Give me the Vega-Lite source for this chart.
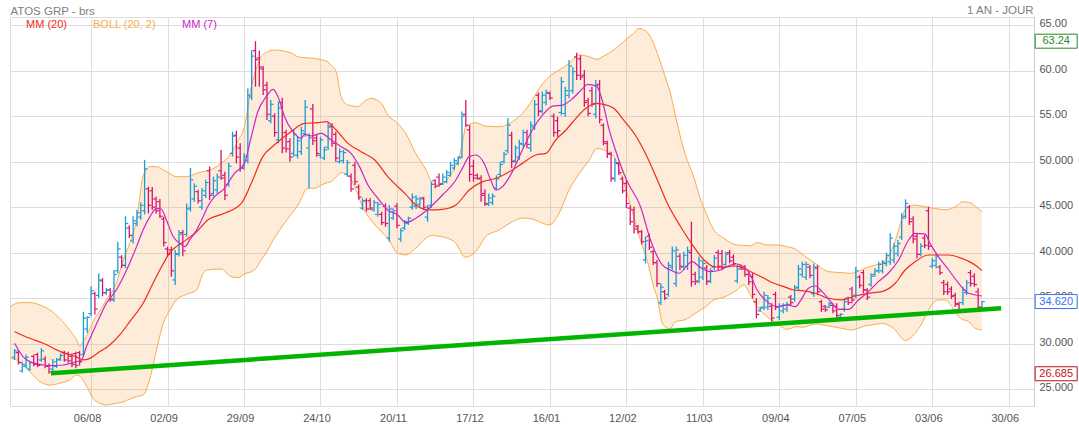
{
"$schema":"https://vega.github.io/schema/vega-lite/v6.json",
"width":1024,"height":389,
"autosize":{"type":"none"},
"padding":{"left":10,"top":17,"right":45,"bottom":21},
"background":"#ffffff",
"config":{"view":{"stroke":"#dddddd","strokeWidth":1},"font":"Liberation Sans","axis":{"labelFont":"Liberation Sans","titleFont":"Liberation Sans"}},
"resolve":{"axis":{"x":"independent","y":"independent"}},
"datasets":{
"bars":[
{"i":0,"o":28.5,"h":29.4,"l":28.2,"c":29.2},{"i":1,"o":29.0,"h":29.2,"l":27.7,"c":27.9},{"i":2,"o":27.0,"h":28.0,"l":26.8,"c":27.7},{"i":3,"o":27.5,"h":28.8,"l":27.3,"c":28.5},{"i":4,"o":27.2,"h":28.1,"l":27.0,"c":27.9},{"i":5,"o":28.6,"h":28.8,"l":27.5,"c":27.7},{"i":6,"o":28.8,"h":29.0,"l":27.4,"c":27.6},{"i":7,"o":28.2,"h":29.5,"l":28.0,"c":29.2},{"i":8,"o":28.3,"h":28.6,"l":27.3,"c":27.5},{"i":9,"o":27.5,"h":27.8,"l":26.685,"c":26.9},
{"i":10,"o":27.2,"h":28.3,"l":27.0,"c":28.0},{"i":11,"o":27.5,"h":28.4,"l":27.3,"c":28.2},{"i":12,"o":28.3,"h":28.9,"l":28.1,"c":28.7},{"i":13,"o":29.0,"h":29.2,"l":28.0,"c":28.2},{"i":14,"o":28.9,"h":29.1,"l":27.9,"c":28.1},{"i":15,"o":28.6,"h":28.9,"l":27.4,"c":27.7},{"i":16,"o":28.9,"h":29.1,"l":27.3,"c":27.6},{"i":17,"o":29.0,"h":29.2,"l":27.6,"c":28.0},{"i":18,"o":28.8,"h":33.5,"l":28.6,"c":32.8},{"i":19,"o":31.6,"h":33.0,"l":31.2,"c":32.9},
{"i":20,"o":33.3,"h":36.3,"l":33.0,"c":35.8},{"i":21,"o":35.5,"h":35.7,"l":33.2,"c":33.8},{"i":22,"o":35.3,"h":37.7,"l":35.0,"c":37.0},{"i":23,"o":36.9,"h":37.2,"l":35.2,"c":35.6},{"i":24,"o":35.6,"h":36.1,"l":35.35,"c":35.9},{"i":25,"o":35.9,"h":36.1,"l":34.6,"c":34.9},{"i":26,"o":34.8,"h":38.1,"l":34.6,"c":37.6},{"i":27,"o":38.0,"h":41.2,"l":37.7,"c":40.4},{"i":28,"o":39.5,"h":39.7,"l":38.3,"c":38.6},{"i":29,"o":38.6,"h":44.0,"l":38.3,"c":43.2},
{"i":30,"o":42.7,"h":43.0,"l":41.6,"c":41.9},{"i":31,"o":41.3,"h":44.0,"l":41.0,"c":43.5},{"i":32,"o":43.2,"h":44.7,"l":42.9,"c":44.4},{"i":33,"o":43.9,"h":45.5,"l":43.6,"c":45.2},{"i":34,"o":44.6,"h":50.2,"l":44.2,"c":49.2},{"i":35,"o":47.0,"h":47.25,"l":44.3,"c":45.2},{"i":36,"o":46.8,"h":47.2,"l":44.7,"c":45.0},{"i":37,"o":45.9,"h":46.15,"l":44.3,"c":44.6},{"i":38,"o":45.6,"h":45.9,"l":43.8,"c":44.0},{"i":39,"o":43.7,"h":43.95,"l":40.66,"c":41.1},
{"i":40,"o":40.4,"h":40.66,"l":39.56,"c":39.8},{"i":41,"o":40.3,"h":40.66,"l":37.36,"c":38.0},{"i":42,"o":37.0,"h":40.3,"l":36.45,"c":39.8},{"i":43,"o":39.9,"h":42.5,"l":39.56,"c":42.0},{"i":44,"o":42.2,"h":42.5,"l":39.6,"c":40.2},{"i":45,"o":42.0,"h":45.4,"l":41.75,"c":44.8},{"i":46,"o":44.9,"h":49.3,"l":44.5,"c":48.0},{"i":47,"o":45.9,"h":47.6,"l":45.6,"c":47.3},{"i":48,"o":46.7,"h":46.9,"l":45.4,"c":45.7},{"i":49,"o":45.0,"h":47.1,"l":44.7,"c":46.8},
{"i":50,"o":46.3,"h":48.0,"l":46.0,"c":47.7},{"i":51,"o":49.0,"h":49.45,"l":45.78,"c":46.3},{"i":52,"o":46.5,"h":48.35,"l":46.15,"c":47.9},{"i":53,"o":46.9,"h":48.71,"l":46.52,"c":48.3},{"i":54,"o":49.0,"h":51.28,"l":47.98,"c":48.2},{"i":55,"o":48.5,"h":48.9,"l":45.78,"c":46.3},{"i":56,"o":47.5,"h":49.89,"l":47.25,"c":49.5},{"i":57,"o":50.9,"h":53.29,"l":50.55,"c":52.8},{"i":58,"o":52.9,"h":53.4,"l":49.81,"c":50.5},{"i":59,"o":51.5,"h":52.01,"l":48.9,"c":49.3},
{"i":60,"o":49.3,"h":50.91,"l":49.08,"c":50.6},{"i":61,"o":50.1,"h":58.05,"l":49.81,"c":57.3},{"i":62,"o":57.1,"h":62.27,"l":56.77,"c":61.6},{"i":63,"o":62.2,"h":63.24,"l":58.24,"c":61.2},{"i":64,"o":61.4,"h":62.19,"l":58.24,"c":60.4},{"i":65,"o":60.2,"h":60.51,"l":57.32,"c":57.9},{"i":66,"o":58.4,"h":58.79,"l":54.57,"c":55.2},{"i":67,"o":54.5,"h":56.77,"l":54.21,"c":56.3},{"i":68,"o":55.0,"h":55.31,"l":52.74,"c":53.2},{"i":69,"o":52.4,"h":56.59,"l":52.01,"c":55.9},
{"i":70,"o":56.5,"h":57.03,"l":50.91,"c":51.5},{"i":71,"o":53.2,"h":53.5,"l":51.0,"c":51.4},{"i":72,"o":52.2,"h":52.56,"l":50.0,"c":50.5},{"i":73,"o":50.9,"h":53.48,"l":50.55,"c":53.0},{"i":74,"o":50.7,"h":52.74,"l":50.36,"c":52.3},{"i":75,"o":51.1,"h":53.84,"l":50.73,"c":53.4},{"i":76,"o":53.1,"h":56.77,"l":52.74,"c":56.0},{"i":77,"o":51.5,"h":53.11,"l":47.07,"c":52.6},{"i":78,"o":55.8,"h":56.33,"l":51.83,"c":52.3},{"i":79,"o":52.6,"h":52.93,"l":50.55,"c":50.9},
{"i":80,"o":50.7,"h":52.74,"l":50.36,"c":52.4},{"i":81,"o":50.4,"h":51.64,"l":50.18,"c":51.3},{"i":82,"o":51.6,"h":54.28,"l":51.28,"c":53.8},{"i":83,"o":53.9,"h":54.21,"l":51.64,"c":52.0},{"i":84,"o":53.0,"h":53.29,"l":50.0,"c":50.4},{"i":85,"o":50.0,"h":51.46,"l":49.81,"c":51.1},{"i":86,"o":50.1,"h":51.28,"l":49.81,"c":51.0},{"i":87,"o":48.6,"h":50.18,"l":48.35,"c":49.9},{"i":88,"o":48.4,"h":48.71,"l":46.7,"c":47.0},{"i":89,"o":49.6,"h":50.0,"l":47.43,"c":47.8},
{"i":90,"o":47.2,"h":47.5,"l":45.8,"c":46.1},{"i":91,"o":44.9,"h":45.97,"l":44.69,"c":45.7},{"i":92,"o":45.7,"h":45.97,"l":44.5,"c":44.8},{"i":93,"o":45.7,"h":45.97,"l":44.69,"c":44.9},{"i":94,"o":44.7,"h":45.78,"l":44.5,"c":45.5},{"i":95,"o":44.2,"h":45.6,"l":43.95,"c":45.3},{"i":96,"o":44.2,"h":44.5,"l":43.04,"c":43.3},{"i":97,"o":45.1,"h":45.42,"l":42.85,"c":43.2},{"i":98,"o":41.6,"h":45.23,"l":41.2,"c":44.8},{"i":99,"o":43.8,"h":44.87,"l":43.59,"c":44.6},
{"i":100,"o":45.1,"h":45.42,"l":42.67,"c":43.0},{"i":101,"o":41.5,"h":42.67,"l":41.2,"c":42.4},{"i":102,"o":42.7,"h":43.59,"l":42.49,"c":43.4},{"i":103,"o":43.2,"h":43.95,"l":43.04,"c":43.8},{"i":104,"o":45.0,"h":46.5,"l":44.7,"c":46.1},{"i":105,"o":45.1,"h":46.3,"l":44.8,"c":45.9},{"i":106,"o":45.3,"h":46.15,"l":45.05,"c":45.9},{"i":107,"o":46.0,"h":46.15,"l":44.69,"c":45.0},{"i":108,"o":43.9,"h":45.23,"l":43.4,"c":44.9},{"i":109,"o":45.2,"h":47.8,"l":44.9,"c":47.5},
{"i":110,"o":47.9,"h":48.06,"l":47.07,"c":47.3},{"i":111,"o":48.3,"h":48.7,"l":47.25,"c":47.5},{"i":112,"o":47.6,"h":48.7,"l":47.43,"c":48.3},{"i":113,"o":47.8,"h":49.08,"l":47.62,"c":48.8},{"i":114,"o":48.5,"h":50.0,"l":48.35,"c":49.6},{"i":115,"o":49.3,"h":50.36,"l":49.08,"c":50.1},{"i":116,"o":49.8,"h":50.6,"l":49.6,"c":50.4},{"i":117,"o":50.5,"h":55.5,"l":50.36,"c":55.0},{"i":118,"o":55.2,"h":56.77,"l":53.84,"c":54.0},{"i":119,"o":53.5,"h":54.0,"l":47.8,"c":48.6},
{"i":120,"o":49.5,"h":50.2,"l":47.8,"c":48.2},{"i":121,"o":48.5,"h":48.7,"l":48.0,"c":48.1},{"i":122,"o":48.2,"h":48.5,"l":45.6,"c":46.3},{"i":123,"o":46.5,"h":46.96,"l":45.13,"c":45.4},{"i":124,"o":45.3,"h":46.5,"l":45.13,"c":46.0},{"i":125,"o":45.5,"h":46.5,"l":45.23,"c":46.2},{"i":126,"o":47.1,"h":48.5,"l":46.9,"c":48.1},{"i":127,"o":48.6,"h":50.0,"l":48.35,"c":49.7},{"i":128,"o":50.0,"h":51.1,"l":49.8,"c":50.8},{"i":129,"o":51.2,"h":54.76,"l":50.9,"c":54.0},
{"i":130,"o":52.9,"h":53.3,"l":49.3,"c":50.0},{"i":131,"o":50.1,"h":51.8,"l":49.8,"c":51.5},{"i":132,"o":50.5,"h":52.4,"l":50.2,"c":52.0},{"i":133,"o":51.9,"h":53.5,"l":51.6,"c":53.2},{"i":134,"o":53.2,"h":53.5,"l":51.46,"c":51.9},{"i":135,"o":51.5,"h":54.4,"l":51.1,"c":54.0},{"i":136,"o":53.8,"h":56.77,"l":53.48,"c":56.3},{"i":137,"o":57.3,"h":57.6,"l":55.0,"c":55.5},{"i":138,"o":55.6,"h":57.7,"l":55.3,"c":57.3},{"i":139,"o":56.5,"h":57.9,"l":56.2,"c":57.6},
{"i":140,"o":57.5,"h":57.7,"l":56.77,"c":57.0},{"i":141,"o":55.0,"h":55.3,"l":52.74,"c":53.2},{"i":142,"o":54.5,"h":54.94,"l":52.74,"c":53.4},{"i":143,"o":55.4,"h":59.3,"l":55.1,"c":58.8},{"i":144,"o":55.3,"h":58.24,"l":54.94,"c":57.8},{"i":145,"o":57.3,"h":61.17,"l":56.96,"c":60.5},{"i":146,"o":57.8,"h":60.4,"l":57.5,"c":59.9},{"i":147,"o":61.5,"h":61.97,"l":58.97,"c":59.5},{"i":148,"o":61.3,"h":61.7,"l":58.97,"c":59.3},{"i":149,"o":59.5,"h":60.07,"l":56.04,"c":56.5},
{"i":150,"o":56.7,"h":57.0,"l":55.0,"c":55.3},{"i":151,"o":57.8,"h":58.24,"l":56.04,"c":56.3},{"i":152,"o":55.2,"h":58.97,"l":54.76,"c":58.4},{"i":153,"o":58.5,"h":58.97,"l":54.2,"c":54.6},{"i":154,"o":54.0,"h":54.2,"l":51.8,"c":52.2},{"i":155,"o":52.0,"h":52.3,"l":50.4,"c":50.9},{"i":156,"o":50.8,"h":51.1,"l":47.8,"c":48.2},{"i":157,"o":48.1,"h":50.36,"l":47.8,"c":49.9},{"i":158,"o":49.8,"h":50.0,"l":48.5,"c":48.8},{"i":159,"o":48.1,"h":48.35,"l":46.5,"c":46.8},
{"i":160,"o":47.6,"h":48.0,"l":44.9,"c":45.4},{"i":161,"o":44.9,"h":45.2,"l":43.04,"c":43.4},{"i":162,"o":44.7,"h":45.05,"l":42.1,"c":42.6},{"i":163,"o":42.9,"h":43.04,"l":42.1,"c":42.3},{"i":164,"o":42.3,"h":42.5,"l":40.9,"c":41.2},{"i":165,"o":39.2,"h":41.75,"l":38.8,"c":41.3},{"i":166,"o":41.8,"h":42.1,"l":40.3,"c":40.6},{"i":167,"o":40.1,"h":40.3,"l":38.64,"c":38.9},{"i":168,"o":38.9,"h":39.2,"l":36.26,"c":36.6},{"i":169,"o":34.5,"h":36.63,"l":34.24,"c":36.2},
{"i":170,"o":35.7,"h":35.9,"l":34.8,"c":35.0},{"i":171,"o":35.4,"h":39.0,"l":35.16,"c":38.6},{"i":172,"o":38.4,"h":40.66,"l":38.09,"c":40.2},{"i":173,"o":36.6,"h":40.66,"l":36.26,"c":40.3},{"i":174,"o":39.6,"h":39.9,"l":38.09,"c":38.5},{"i":175,"o":38.4,"h":40.1,"l":38.09,"c":39.7},{"i":176,"o":38.5,"h":40.66,"l":38.09,"c":40.2},{"i":177,"o":40.0,"h":43.4,"l":36.26,"c":36.8},{"i":178,"o":37.6,"h":37.9,"l":36.45,"c":36.8},{"i":179,"o":36.9,"h":39.56,"l":36.63,"c":39.1},
{"i":180,"o":37.3,"h":39.2,"l":37.0,"c":38.8},{"i":181,"o":38.3,"h":38.64,"l":36.45,"c":36.8},{"i":182,"o":36.9,"h":38.28,"l":36.63,"c":38.0},{"i":183,"o":38.4,"h":39.74,"l":38.09,"c":39.4},{"i":184,"o":40.0,"h":40.3,"l":38.09,"c":38.5},{"i":185,"o":39.9,"h":40.3,"l":38.09,"c":38.4},{"i":186,"o":38.7,"h":40.1,"l":38.46,"c":39.8},{"i":187,"o":40.0,"h":40.3,"l":38.83,"c":39.1},{"i":188,"o":39.5,"h":39.8,"l":38.5,"c":38.8},{"i":189,"o":36.9,"h":38.64,"l":36.63,"c":38.2},
{"i":190,"o":38.5,"h":38.64,"l":38.09,"c":38.2},{"i":191,"o":38.4,"h":38.64,"l":37.36,"c":37.6},{"i":192,"o":37.6,"h":37.9,"l":36.45,"c":36.8},{"i":193,"o":37.4,"h":37.73,"l":34.98,"c":35.4},{"i":194,"o":34.6,"h":34.98,"l":32.78,"c":33.2},{"i":195,"o":33.6,"h":34.06,"l":33.51,"c":33.9},{"i":196,"o":34.0,"h":35.7,"l":33.7,"c":35.3},{"i":197,"o":34.0,"h":35.35,"l":33.7,"c":35.0},{"i":198,"o":34.1,"h":34.43,"l":32.41,"c":32.8},{"i":199,"o":35.4,"h":35.7,"l":33.7,"c":34.0},
{"i":200,"o":32.9,"h":34.43,"l":32.6,"c":34.1},{"i":201,"o":33.6,"h":34.43,"l":33.33,"c":34.2},{"i":202,"o":33.8,"h":34.6,"l":33.5,"c":34.3},{"i":203,"o":35.1,"h":35.35,"l":34.24,"c":34.5},{"i":204,"o":34.9,"h":36.45,"l":34.6,"c":36.1},{"i":205,"o":36.2,"h":38.64,"l":35.9,"c":38.2},{"i":206,"o":37.6,"h":39.0,"l":37.3,"c":38.7},{"i":207,"o":37.3,"h":39.0,"l":37.0,"c":38.7},{"i":208,"o":38.4,"h":38.64,"l":37.18,"c":37.5},{"i":209,"o":35.5,"h":38.8,"l":35.16,"c":38.4},
{"i":210,"o":38.3,"h":38.64,"l":35.35,"c":35.7},{"i":211,"o":34.6,"h":34.8,"l":33.5,"c":33.8},{"i":212,"o":34.1,"h":34.24,"l":33.5,"c":33.7},{"i":213,"o":34.0,"h":34.6,"l":33.88,"c":34.4},{"i":214,"o":34.2,"h":34.43,"l":33.33,"c":33.6},{"i":215,"o":34.1,"h":34.43,"l":32.78,"c":33.1},{"i":216,"o":32.9,"h":33.33,"l":32.78,"c":33.2},{"i":217,"o":33.8,"h":34.98,"l":33.51,"c":34.6},{"i":218,"o":35.0,"h":35.16,"l":34.24,"c":34.5},{"i":219,"o":36.0,"h":36.26,"l":34.43,"c":34.8},
{"i":220,"o":35.3,"h":38.46,"l":34.98,"c":38.0},{"i":221,"o":37.3,"h":37.54,"l":36.08,"c":36.4},{"i":222,"o":37.8,"h":38.09,"l":35.53,"c":35.9},{"i":223,"o":35.9,"h":36.08,"l":34.8,"c":35.1},{"i":224,"o":36.5,"h":37.73,"l":36.26,"c":37.4},{"i":225,"o":37.6,"h":38.28,"l":37.36,"c":38.0},{"i":226,"o":38.0,"h":39.0,"l":37.73,"c":38.7},{"i":227,"o":38.0,"h":39.19,"l":37.73,"c":38.9},{"i":228,"o":38.8,"h":40.0,"l":38.5,"c":39.7},{"i":229,"o":39.0,"h":42.12,"l":38.64,"c":41.6},
{"i":230,"o":39.2,"h":41.02,"l":38.83,"c":40.7},{"i":231,"o":39.9,"h":41.39,"l":39.56,"c":41.0},{"i":232,"o":41.7,"h":44.32,"l":41.39,"c":43.8},{"i":233,"o":44.0,"h":45.86,"l":43.77,"c":45.4},{"i":234,"o":45.0,"h":45.23,"l":43.04,"c":43.4},{"i":235,"o":43.7,"h":44.0,"l":41.02,"c":41.5},{"i":236,"o":41.8,"h":42.12,"l":39.37,"c":39.8},{"i":237,"o":39.8,"h":41.02,"l":39.56,"c":40.7},{"i":238,"o":41.6,"h":41.94,"l":40.48,"c":40.8},{"i":239,"o":44.6,"h":45.05,"l":40.29,"c":40.7},
{"i":240,"o":38.5,"h":39.37,"l":38.28,"c":39.1},{"i":241,"o":38.6,"h":39.92,"l":38.28,"c":39.6},{"i":242,"o":38.4,"h":38.64,"l":37.54,"c":37.8},{"i":243,"o":36.7,"h":37.0,"l":35.35,"c":35.7},{"i":244,"o":36.5,"h":36.81,"l":35.35,"c":35.7},{"i":245,"o":36.0,"h":36.3,"l":34.9,"c":35.2},{"i":246,"o":35.3,"h":35.6,"l":34.06,"c":34.4},{"i":247,"o":34.3,"h":34.6,"l":33.33,"c":33.6},{"i":248,"o":34.5,"h":36.26,"l":34.24,"c":35.9},{"i":249,"o":35.6,"h":37.0,"l":35.35,"c":36.7},
{"i":250,"o":37.8,"h":38.09,"l":36.26,"c":36.6},{"i":251,"o":37.4,"h":37.73,"l":36.26,"c":36.5},{"i":252,"o":35.7,"h":36.08,"l":33.51,"c":34.0},{"i":253,"o":34.0,"h":34.7,"l":33.88,"c":34.62}
],
"band":[
{"i":-1.2,"up":34.06,"lo":28.38},{"i":1.4,"up":34.5,"lo":28.02},{"i":4,"up":34.5,"lo":26.92},{"i":6.6,"up":34.25,"lo":25.82},{"i":9.2,"up":33.7,"lo":25.45},{"i":11.8,"up":32.78,"lo":25.64},{"i":14.4,"up":31.5,"lo":26.0},{"i":16.2,"up":30.4,"lo":26.55},{"i":17.1,"up":29.67,"lo":26.4},{"i":17.9,"up":30.22,"lo":26.0},{"i":19,"up":31.0,"lo":25.2},{"i":20.5,"up":32.4,"lo":23.99},{"i":22.3,"up":33.6,"lo":23.44},{"i":24,"up":34.8,"lo":23.26},{"i":26.6,"up":36.63,"lo":23.44},{"i":28.4,"up":39.19,"lo":23.6},{"i":30.1,"up":41.02,"lo":23.9},{"i":31.9,"up":43.59,"lo":24.17},{"i":33.6,"up":48.35,"lo":24.35},{"i":35.4,"up":49.45,"lo":26.19},{"i":37.1,"up":49.45,"lo":29.3},{"i":38.9,"up":49.1,"lo":32.23},{"i":40.6,"up":48.7,"lo":33.7},{"i":42.3,"up":48.35,"lo":34.8},{"i":44.9,"up":48.35,"lo":35.4},{"i":47.6,"up":48.71,"lo":35.89},{"i":49.3,"up":48.9,"lo":37.73},{"i":50.5,"up":49.0,"lo":38.09},
{"i":54,"up":49.81,"lo":38.2},{"i":56.6,"up":50.91,"lo":37.36},{"i":58.4,"up":52.3,"lo":37.25},{"i":60.1,"up":53.84,"lo":37.65},{"i":61.9,"up":58.24,"lo":37.9},{"i":63.2,"up":60.2,"lo":38.3},{"i":64.5,"up":61.53,"lo":39.2},{"i":65.4,"up":61.9,"lo":39.74},{"i":67.9,"up":62.27,"lo":41.57},{"i":70.5,"up":62.16,"lo":43.2},{"i":72.5,"up":61.9,"lo":44.3},{"i":74.1,"up":61.53,"lo":45.23},{"i":76.7,"up":61.4,"lo":47.07},{"i":78.4,"up":61.35,"lo":47.07},{"i":80.2,"up":61.2,"lo":47.43},{"i":81.9,"up":60.98,"lo":47.7},{"i":82.8,"up":60.6,"lo":47.8},{"i":84.1,"up":59.89,"lo":48.3},{"i":85.4,"up":57.14,"lo":48.79},{"i":87.2,"up":56.22,"lo":48.53},{"i":88.9,"up":56.1,"lo":47.25},{"i":89.8,"up":56.04,"lo":46.4},{"i":90.6,"up":56.3,"lo":45.42},{"i":93.2,"up":56.96,"lo":43.59},{"i":95.9,"up":56.41,"lo":42.3},{"i":97.6,"up":55.13,"lo":41.57},{"i":100.2,"up":54.21,"lo":39.92},{"i":102.3,"up":53.11,"lo":39.74},
{"i":104.9,"up":50.91,"lo":40.47},{"i":107.6,"up":49.08,"lo":41.6},{"i":109.3,"up":47.62,"lo":41.9},{"i":111,"up":47.43,"lo":41.8},{"i":113.7,"up":48.35,"lo":41.5},{"i":115.4,"up":49.6,"lo":41.02},{"i":116.3,"up":50.55,"lo":40.4},{"i":117.1,"up":52.0,"lo":39.74},{"i":118,"up":53.84,"lo":39.5},{"i":120.6,"up":54.28,"lo":40.11},{"i":123.2,"up":53.9,"lo":41.75},{"i":126.7,"up":53.84,"lo":42.49},{"i":130.2,"up":54.39,"lo":43.4},{"i":132.8,"up":55.31,"lo":43.8},{"i":135.4,"up":56.77,"lo":43.7},{"i":137.2,"up":58.05,"lo":43.4},{"i":139.8,"up":59.34,"lo":43.04},{"i":142.4,"up":60.07,"lo":44.32},{"i":145,"up":60.8,"lo":46.88},{"i":147.7,"up":61.72,"lo":48.71},{"i":150.3,"up":61.53,"lo":50.18},{"i":152.3,"up":61.24,"lo":51.46},{"i":154,"up":61.6,"lo":51.3},
{"i":156.7,"up":62.27,"lo":50.55},{"i":159.3,"up":63.2,"lo":47.62},{"i":160.2,"up":63.55,"lo":46.5},{"i":161.9,"up":64.1,"lo":43.95},{"i":163.3,"up":64.65,"lo":41.9},{"i":164.5,"up":64.5,"lo":40.29},{"i":165.4,"up":64.28,"lo":39.2},{"i":167.1,"up":63.0,"lo":36.26},{"i":168.1,"up":61.9,"lo":35.0},{"i":169.4,"up":60.3,"lo":32.23},{"i":170.7,"up":58.61,"lo":31.7},{"i":171.2,"up":58.0,"lo":31.57},{"i":172.9,"up":54.9,"lo":32.41},{"i":175.1,"up":51.2,"lo":32.6},{"i":176.8,"up":49.2,"lo":32.96},{"i":177.6,"up":48.35,"lo":33.2},{"i":179.4,"up":45.8,"lo":33.7},{"i":180.3,"up":44.87,"lo":33.9},{"i":182.9,"up":42.49,"lo":34.8},{"i":185.5,"up":41.57,"lo":35.1},{"i":188.9,"up":40.84,"lo":35.89},{"i":190.7,"up":40.8,"lo":36.45},{"i":192.4,"up":40.73,"lo":35.35},{"i":194.2,"up":41.1,"lo":34.06},{"i":196.8,"up":40.84,"lo":32.96},{"i":199.4,"up":40.84,"lo":32.23},{"i":202,"up":40.66,"lo":31.57},{"i":204.6,"up":40.29,"lo":31.87},{"i":205.9,"up":39.85,"lo":31.79},
{"i":209.4,"up":38.82,"lo":32.16},{"i":212.9,"up":37.91,"lo":31.94},{"i":216.3,"up":37.8,"lo":31.68},{"i":218.9,"up":37.73,"lo":31.5},{"i":222.4,"up":38.28,"lo":31.94},{"i":225,"up":38.64,"lo":32.1},{"i":226.8,"up":38.9,"lo":32.23},{"i":229.4,"up":40.29,"lo":31.8},{"i":230.3,"up":41.3,"lo":31.5},{"i":231.2,"up":42.49,"lo":31.0},{"i":232.9,"up":44.69,"lo":30.33},{"i":235.5,"up":45.23,"lo":31.13},{"i":237.3,"up":45.1,"lo":32.23},{"i":239,"up":44.98,"lo":33.7},{"i":241.6,"up":44.8,"lo":34.8},{"i":243.4,"up":44.7,"lo":34.8},{"i":245.1,"up":44.87,"lo":34.06},{"i":246.9,"up":45.3,"lo":32.96},{"i":247.7,"up":45.6,"lo":32.7},{"i":249.5,"up":45.5,"lo":32.41},{"i":250.3,"up":45.42,"lo":32.1},{"i":251.2,"up":45.1,"lo":31.68},{"i":253,"up":44.5,"lo":31.5}
],
"mm20":[
{"i":0,"v":31.31},{"i":4,"v":30.58},{"i":7.5,"v":30.03},{"i":12,"v":29.12},{"i":16,"v":28.57},{"i":18,"v":28.2},{"i":19.7,"v":28.38},{"i":22.3,"v":29.12},{"i":24.9,"v":29.85},{"i":27.5,"v":30.95},{"i":30.1,"v":32.41},{"i":33.6,"v":34.43},{"i":36.2,"v":36.63},{"i":38.9,"v":38.8},{"i":40.6,"v":40.0},{"i":42.3,"v":40.66},{"i":44.9,"v":41.4},{"i":47.6,"v":42.3},{"i":50.5,"v":43.59},{"i":54.9,"v":44.32},{"i":59.3,"v":45.42},{"i":61.9,"v":47.62},{"i":64.9,"v":50.55},{"i":67.9,"v":51.83},{"i":72.3,"v":53.29},{"i":75.8,"v":54.21},{"i":79.3,"v":54.28},{"i":81.5,"v":54.39},{"i":84.1,"v":53.48},{"i":87.2,"v":52.01},{"i":90.6,"v":51.1},{"i":94.2,"v":50.18},{"i":97.6,"v":48.35},{"i":102.3,"v":46.4},{"i":104.9,"v":45.23},{"i":108.4,"v":44.69},{"i":111.9,"v":44.76},{"i":115.4,"v":45.23},{"i":118.9,"v":46.88},{"i":122.4,"v":47.8},{"i":125.9,"v":48.17},{"i":129.4,"v":48.9},{"i":132.8,"v":49.81},{"i":136.3,"v":50.73},{"i":139,"v":50.91},{"i":141.5,"v":52.38},{"i":144.2,"v":53.48},{"i":146.8,"v":54.76},{"i":149.4,"v":55.86},{"i":151.9,"v":56.41},{"i":154,"v":56.3},{"i":156.7,"v":55.86},{"i":159.3,"v":54.57},{"i":162.6,"v":52.74},{"i":165.4,"v":50.55},{"i":168.1,"v":47.98},{"i":170.7,"v":45.42},{"i":174.2,"v":42.85},{"i":177.6,"v":40.66},{"i":180.3,"v":39.19},{"i":182.9,"v":38.46},{"i":185.5,"v":38.38},{"i":188.1,"v":38.53},{"i":190.7,"v":38.28},{"i":193.3,"v":37.73},{"i":196,"v":37.18},{"i":198.6,"v":36.63},{"i":201.2,"v":36.26},{"i":203.8,"v":35.89},{"i":205.9,"v":35.82},{"i":209.4,"v":35.53},{"i":212.9,"v":34.98},{"i":216.3,"v":34.8},{"i":219.8,"v":35.23},{"i":223.3,"v":35.53},{"i":226.8,"v":35.71},{"i":230.3,"v":36.63},{"i":232.9,"v":38.09},{"i":235.5,"v":39.0},{"i":239,"v":39.74},{"i":240.7,"v":39.74},{"i":244.3,"v":39.74},{"i":247.7,"v":39.37},{"i":251.2,"v":38.64},{"i":253,"v":38.02}
],
"mm7":[
{"i":0,"v":30.03},{"i":2.2,"v":28.57},{"i":4,"v":28.02},{"i":7.5,"v":27.65},{"i":10,"v":27.58},{"i":12.7,"v":27.65},{"i":16.2,"v":28.02},{"i":17.5,"v":28.2},{"i":18.8,"v":29.67},{"i":20.5,"v":31.31},{"i":22.3,"v":32.96},{"i":24,"v":34.43},{"i":26.6,"v":35.89},{"i":29.3,"v":38.09},{"i":31.9,"v":40.66},{"i":33.6,"v":42.49},{"i":35.4,"v":43.95},{"i":37.1,"v":44.87},{"i":38.4,"v":44.76},{"i":39.7,"v":43.59},{"i":41.5,"v":41.75},{"i":43.2,"v":41.02},{"i":44.5,"v":40.66},{"i":45.8,"v":41.39},{"i":47.6,"v":42.49},{"i":49.3,"v":43.95},{"i":50.5,"v":45.05},{"i":52.3,"v":46.15},{"i":54.9,"v":47.07},{"i":57.5,"v":48.71},{"i":60.1,"v":49.81},{"i":61.9,"v":52.74},{"i":63.6,"v":55.49},{"i":65.8,"v":57.14},{"i":67.6,"v":57.95},{"i":68.9,"v":57.14},{"i":70.6,"v":54.94},{"i":72.8,"v":53.29},{"i":74.9,"v":52.56},{"i":75.9,"v":53.0},{"i":77.6,"v":52.82},{"i":80.2,"v":53.11},{"i":82.8,"v":52.38},{"i":85.4,"v":51.64},{"i":88,"v":50.91},{"i":90.2,"v":49.45},{"i":92.4,"v":47.43},{"i":95,"v":45.97},{"i":97.6,"v":44.69},{"i":100.2,"v":44.14},{"i":102.3,"v":43.3},{"i":104.9,"v":43.77},{"i":108.4,"v":44.87},{"i":111.9,"v":46.33},{"i":115.4,"v":47.98},{"i":117.1,"v":49.26},{"i":118.9,"v":50.55},{"i":120.6,"v":50.73},{"i":122.8,"v":49.81},{"i":124.5,"v":47.98},{"i":125.9,"v":46.88},{"i":127.6,"v":47.25},{"i":130.2,"v":48.9},{"i":132.8,"v":51.28},{"i":135.4,"v":53.48},{"i":138.1,"v":55.13},{"i":140.7,"v":56.11},{"i":143.3,"v":56.22},{"i":146,"v":56.96},{"i":148.6,"v":58.05},{"i":149.8,"v":58.5},{"i":152.2,"v":58.3},{"i":153.5,"v":57.0},{"i":155.5,"v":53.5},{"i":157.4,"v":50.95},{"i":160,"v":48.0},{"i":163.7,"v":45.05},{"i":166.3,"v":41.39},{"i":169.4,"v":38.64},{"i":171.5,"v":38.09},{"i":173.7,"v":37.73},{"i":177.2,"v":39.0},{"i":179.3,"v":38.38},{"i":181.9,"v":37.91},{"i":184.6,"v":38.09},{"i":187.2,"v":38.64},{"i":188.9,"v":38.75},{"i":190.7,"v":38.46},{"i":192.4,"v":37.54},{"i":194.2,"v":35.89},{"i":196.8,"v":34.61},{"i":199.4,"v":34.06},{"i":202,"v":34.25},{"i":204.2,"v":34.06},{"i":205.9,"v":34.98},{"i":207.6,"v":36.08},{"i":209.4,"v":36.33},{"i":211.2,"v":35.71},{"i":213.8,"v":34.43},{"i":215.5,"v":33.77},{"i":218.1,"v":33.77},{"i":220.7,"v":34.79},{"i":223.3,"v":35.71},{"i":225.9,"v":36.81},{"i":228.5,"v":37.73},{"i":231.2,"v":39.19},{"i":233.8,"v":41.39},{"i":235.5,"v":42.12},{"i":238.1,"v":42.05},{"i":239.4,"v":41.02},{"i":241.6,"v":39.56},{"i":244.3,"v":38.09},{"i":246.9,"v":36.63},{"i":249.5,"v":35.53},{"i":253,"v":35.23}
],
"trend":[{"i":9.5,"v":26.74},{"i":258,"v":33.88}],
"boxes":[{"v":63.24,"t":"63.24","k":"max"},{"v":34.62,"t":"34.620","k":"last"},{"v":26.685,"t":"26.685","k":"min"}]
},
"layer":[
{"data":{"name":"band"},
 "mark":{"type":"area","fill":"#f0a040","opacity":0.2,"interpolate":"monotone"},
 "encoding":{
  "x":{"field":"i","type":"quantitative","scale":{"domain":[-1.2,266.6],"nice":false,"zero":false},
   "axis":{"orient":"bottom","values":[20,40,60,80,100,120,140,160,180,200,220,240,260],
    "labelExpr":"['06/08','02/09','29/09','24/10','20/11','17/12','16/01','12/02','11/03','09/04','07/05','03/06','30/06'][round((datum.value-20)/20)]",
    "grid":true,"gridColor":"#dddddd","gridWidth":1,"ticks":false,"tickSize":0,"domain":false,"labelPadding":6,"labelFontSize":11,"labelColor":"#555555","labelOffset":-4,"labelBound":false,"labelFlush":false,"labelOverlap":false,"title":null}},
  "y":{"field":"up","type":"quantitative","scale":{"domain":[23.14,65.9],"nice":false,"zero":false},
   "axis":{"orient":"right","values":[25,30,35,40,45,50,55,60,65],
    "labelExpr":"datum.value >= 55 ? format(datum.value, '.2f') : format(datum.value, '.3f')",
    "grid":true,"gridColor":"#dddddd","gridWidth":1,"ticks":false,"tickSize":0,"domain":true,"domainColor":"#cccccc","labelPadding":5,"labelFontSize":11,"labelColor":"#555555","labelOffset":-1.5,"labelBound":false,"labelFlush":false,"labelOverlap":false,
    "title":"1 AN - JOUR","titleAngle":0,"titleX":-1,"titleY":-4,"titleAlign":"right","titleBaseline":"alphabetic","titleFontSize":11.5,"titleFontWeight":"normal","titleColor":"#808080"}},
  "y2":{"field":"lo"}
 }},
{"data":{"name":"band"},
 "mark":{"type":"line","strokeWidth":1,"interpolate":"monotone"},
 "encoding":{
  "x":{"field":"i","type":"quantitative","axis":null},
  "y":{"field":"up","type":"quantitative","axis":null},
  "color":{"datum":"BOLL (20, 2)","type":"nominal",
   "scale":{"domain":["MM (20)","BOLL (20, 2)","MM (7)"],"range":["#f52a1a","#fbab4a","#c927c9"]},
   "legend":{"orient":"none","legendX":5,"legendY":2,"direction":"horizontal","title":null,"labelFontSize":11,"labelFont":"Liberation Sans",
    "labelColor":{"expr":"scale('color', datum.value)"},"symbolOpacity":0,"symbolSize":0,"symbolStrokeWidth":0,"labelOffset":0,"columnPadding":15,"padding":0}}
 }},
{"data":{"name":"band"},
 "mark":{"type":"line","strokeWidth":1,"interpolate":"monotone"},
 "encoding":{
  "x":{"field":"i","type":"quantitative","axis":null},
  "y":{"field":"lo","type":"quantitative","axis":null},
  "color":{"datum":"BOLL (20, 2)","type":"nominal"}
 }},
{"data":{"name":"bars"},
 "mark":{"type":"rule","strokeWidth":1.3,"opacity":1},
 "encoding":{
  "x":{"field":"i","type":"quantitative","axis":null},
  "y":{"field":"l","type":"quantitative","axis":null},
  "y2":{"field":"h"},
  "color":{"condition":{"test":"datum.c >= datum.o","value":"#1a9bd7"},"value":"#d6136e"}
 }},
{"data":{"name":"bars"},
 "mark":{"type":"tick","orient":"horizontal","size":2.4,"thickness":1.2,"xOffset":-1.6,"opacity":1},
 "encoding":{
  "x":{"field":"i","type":"quantitative","axis":null},
  "y":{"field":"o","type":"quantitative","axis":null},
  "color":{"condition":{"test":"datum.c >= datum.o","value":"#1a9bd7"},"value":"#d6136e"}
 }},
{"data":{"name":"bars"},
 "mark":{"type":"tick","orient":"horizontal","size":2.4,"thickness":1.2,"xOffset":1.6,"opacity":1},
 "encoding":{
  "x":{"field":"i","type":"quantitative","axis":null},
  "y":{"field":"c","type":"quantitative","axis":null},
  "color":{"condition":{"test":"datum.c >= datum.o","value":"#1a9bd7"},"value":"#d6136e"}
 }},
{"data":{"name":"mm20"},
 "mark":{"type":"line","strokeWidth":1.2,"interpolate":"monotone"},
 "encoding":{
  "x":{"field":"i","type":"quantitative","axis":null},
  "y":{"field":"v","type":"quantitative","axis":null},
  "color":{"datum":"MM (20)","type":"nominal"}
 }},
{"data":{"name":"mm7"},
 "mark":{"type":"line","strokeWidth":1.2,"interpolate":"monotone"},
 "encoding":{
  "x":{"field":"i","type":"quantitative","axis":null},
  "y":{"field":"v","type":"quantitative","axis":null},
  "color":{"datum":"MM (7)","type":"nominal"}
 }},
{"data":{"name":"trend"},
 "mark":{"type":"line","color":"#00b400","strokeWidth":4.5,"strokeCap":"butt"},
 "encoding":{
  "x":{"field":"i","type":"quantitative",
   "axis":{"orient":"top","labels":false,"ticks":false,"domain":false,"grid":false,"title":"ATOS GRP - brs","titleAnchor":"start","titleAlign":"left","titlePadding":3,"titleBaseline":"alphabetic","titleFontSize":11.5,"titleFontWeight":"normal","titleColor":"#808080"}},
  "y":{"field":"v","type":"quantitative","axis":null}
 }},
{"data":{"name":"boxes"},
 "mark":{"type":"point","shape":"M-1,-0.3333H1V0.3333H-1Z","size":1764,"filled":false,"fill":"#ffffff","fillOpacity":1,"strokeWidth":1,"opacity":1},
 "encoding":{
  "x":{"datum":272.4,"type":"quantitative","axis":null},
  "y":{"field":"v","type":"quantitative","axis":null},
  "stroke":{"condition":[{"test":"datum.k == 'max'","value":"#1e8c1e"},{"test":"datum.k == 'min'","value":"#c41010"}],"value":"#3a6ff0"}
 }},
{"data":{"name":"boxes"},
 "mark":{"type":"text","fontSize":11,"font":"Liberation Sans","align":"center","baseline":"middle"},
 "encoding":{
  "x":{"datum":272.4,"type":"quantitative","axis":null},
  "y":{"field":"v","type":"quantitative","axis":null},
  "text":{"field":"t"},
  "color":{"condition":[{"test":"datum.k == 'max'","value":"#1e8c1e"},{"test":"datum.k == 'min'","value":"#c41010"}],"value":"#3a6ff0"}
 }}
]
}
